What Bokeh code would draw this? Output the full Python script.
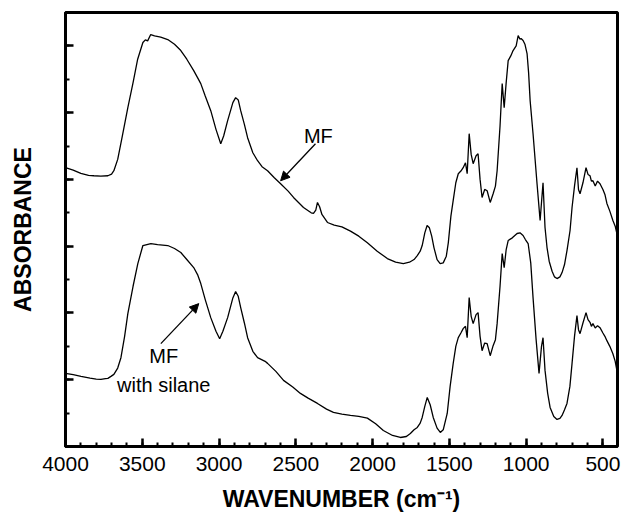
from bokeh.plotting import figure
from bokeh.models import Range1d, SingleIntervalTicker, Label, Arrow, NormalHead, CustomLabelingPolicy
from bokeh.embed import file_html
from bokeh.resources import INLINE

# Upper spectrum: MF
mf_wn = [4000, 3950, 3900, 3850, 3815, 3770, 3724, 3700, 3685, 3660, 3630, 3594, 3560, 3530,
         3496, 3480, 3465, 3445, 3420, 3380, 3334, 3290, 3249, 3210, 3165, 3140, 3119, 3090,
         3054, 3020, 2989, 2970, 2944, 2910, 2892, 2875, 2859, 2835, 2814, 2780, 2749, 2720,
         2684, 2640, 2599, 2550, 2515, 2450, 2400, 2385, 2370, 2359, 2345, 2330, 2294, 2250,
         2200, 2144, 2090, 2034, 1970, 1904, 1850, 1800, 1760, 1730, 1709, 1690, 1677, 1660,
         1645, 1630, 1615, 1600, 1580, 1560, 1540, 1520, 1507, 1490, 1475, 1458, 1442, 1425,
         1410, 1395, 1384, 1371, 1358, 1345, 1326, 1313, 1300, 1287, 1270, 1254, 1234, 1215,
         1200, 1189, 1170, 1156, 1143, 1130, 1117, 1100, 1085, 1065, 1052, 1040, 1033, 1020,
         1008, 994, 984, 974, 955, 929, 909, 890, 877, 864, 850, 831, 815, 799, 780, 766, 750,
         734, 714, 701, 685, 669, 659, 649, 630, 610, 597, 584, 575, 565, 550, 535, 519, 500,
         487, 474, 455, 435, 420, 409]
mf_abs = [8.35, 8.28, 8.18, 8.12, 8.11, 8.10, 8.11, 8.16, 8.26, 8.60, 9.30, 10.15, 10.90, 11.60,
          12.10, 12.18, 12.15, 12.34, 12.30, 12.26, 12.19, 12.05, 11.86, 11.60, 11.26, 11.05, 10.87, 10.50,
          10.06, 9.50, 9.07, 9.30, 9.76, 10.30, 10.45, 10.38, 10.06, 9.65, 9.25, 8.80, 8.56, 8.38,
          8.26, 8.05, 7.87, 7.65, 7.46, 7.16, 7.00, 6.98, 7.08, 7.31, 7.18, 6.95, 6.71, 6.63,
          6.58, 6.45, 6.30, 6.10, 5.85, 5.63, 5.52, 5.48, 5.52, 5.60, 5.72, 5.85, 6.02, 6.40,
          6.62, 6.55, 6.30, 5.95, 5.60, 5.48, 5.50, 5.70, 6.10, 6.90, 7.37, 7.90, 8.17, 8.25,
          8.35, 8.50, 8.17, 9.37, 8.75, 8.47, 8.71, 8.77, 8.00, 7.46, 7.70, 7.66, 7.31, 7.57,
          7.80, 8.26, 9.60, 10.87, 10.15, 10.90, 11.56, 11.70, 11.86, 12.00, 12.31, 12.20, 12.22, 12.16,
          12.05, 11.77, 11.20, 10.36, 9.37, 7.87, 6.77, 7.90, 6.56, 5.96, 5.55, 5.25, 5.08, 5.03, 5.08, 5.21, 5.45,
          5.87, 6.47, 7.16, 7.80, 8.35, 7.70, 7.57, 7.90, 8.35, 8.15, 8.11, 7.95, 7.96, 7.80, 7.95, 7.87, 7.70,
          7.55, 7.28, 7.05, 6.77, 6.60, 6.38]

# Lower spectrum: MF with silane
mfs_wn = [4000, 3950, 3899, 3840, 3800, 3769, 3740, 3724, 3704, 3685, 3660, 3639, 3615, 3594,
          3560, 3529, 3496, 3470, 3444, 3400, 3334, 3290, 3249, 3210, 3165, 3140, 3119, 3090,
          3054, 3020, 2996, 2975, 2944, 2910, 2892, 2875, 2859, 2835, 2814, 2780, 2749, 2700,
          2684, 2630, 2580, 2520, 2470, 2420, 2359, 2300, 2255, 2200, 2144, 2090, 2034, 1980,
          1930, 1870, 1819, 1780, 1754, 1730, 1709, 1690, 1677, 1660, 1644, 1625, 1605, 1580,
          1559, 1540, 1514, 1495, 1475, 1458, 1442, 1425, 1410, 1395, 1384, 1371, 1358, 1345,
          1326, 1313, 1300, 1287, 1270, 1254, 1234, 1215, 1200, 1189, 1170, 1156, 1143, 1130,
          1117, 1090, 1059, 1040, 1020, 1005, 987, 970, 955, 935, 916, 900, 890, 877, 860, 844,
          820, 799, 780, 766, 750, 734, 715, 701, 685, 669, 659, 649, 630, 610, 597, 584, 575,
          565, 550, 535, 519, 500, 487, 474, 455, 435, 420, 409]
mfs_abs = [2.19, 2.15, 2.10, 2.05, 2.02, 2.01, 2.03, 2.04, 2.10, 2.16, 2.35, 2.66, 3.30, 3.98,
           4.80, 5.48, 6.02, 6.05, 6.08, 6.05, 6.02, 5.93, 5.81, 5.60, 5.36, 5.15, 4.88, 4.40,
           3.86, 3.45, 3.23, 3.45, 3.86, 4.45, 4.64, 4.50, 4.16, 3.70, 3.26, 2.85, 2.66, 2.55,
           2.49, 2.25, 1.98, 1.78, 1.59, 1.45, 1.29, 1.12, 1.02, 0.97, 0.93, 0.90, 0.85, 0.68,
           0.48, 0.33, 0.27, 0.30, 0.39, 0.50, 0.57, 0.70, 0.87, 1.20, 1.47, 1.25, 0.87, 0.55,
           0.42, 0.50, 0.99, 1.80, 2.49, 3.00, 3.26, 3.40, 3.53, 3.60, 3.26, 4.46, 3.90, 3.68,
           3.95, 4.01, 3.30, 2.87, 3.10, 3.08, 2.72, 3.02, 3.20, 3.68, 4.80, 5.78, 5.36, 5.90,
           6.17, 6.25, 6.38, 6.40, 6.32, 6.20, 6.08, 5.50, 4.46, 3.20, 2.19, 3.00, 3.26, 2.28, 1.60, 1.17,
           0.90, 0.81, 0.84, 0.93, 1.10, 1.29, 1.80, 2.49, 3.30, 3.92, 3.50, 3.38, 3.70, 4.01, 3.80, 3.72, 3.60,
           3.68, 3.55, 3.62, 3.56, 3.40, 3.30, 3.17, 3.00, 2.78, 2.55, 2.28]

FONT = "Liberation Sans"

p = figure(width=625, height=514, output_backend="svg", toolbar_location=None,
           x_range=Range1d(4000, 405), y_range=Range1d(0, 13),
           min_border_left=65, min_border_right=8, min_border_top=12, min_border_bottom=68)
p.grid.visible = False
p.background_fill_color = "white"
p.border_fill_color = "white"
p.outline_line_color = "black"
p.outline_line_width = 3

p.line(mf_wn, mf_abs, line_color="black", line_width=1.3)
p.line(mfs_wn, mfs_abs, line_color="black", line_width=1.3)

p.xaxis.ticker = SingleIntervalTicker(interval=500, num_minor_ticks=5)
p.yaxis.ticker = SingleIntervalTicker(interval=2, num_minor_ticks=2)
for ax in (p.xaxis, p.yaxis):
    ax.axis_line_width = 3
    ax.major_tick_in = 8
    ax.major_tick_out = 0
    ax.minor_tick_in = 4
    ax.minor_tick_out = 0
    ax.major_tick_line_width = 2.5
    ax.minor_tick_line_width = 2
    ax.axis_label_text_font = FONT
    ax.axis_label_text_font_style = "bold"
    ax.axis_label_text_font_size = "23px"
    ax.axis_label_text_color = "black"
    ax.major_label_text_font = FONT
    ax.major_label_text_color = "black"

p.xaxis.axis_label = "WAVENUMBER (cm\u207b\u00b9)"
p.xaxis.major_label_text_font_size = "21px"
p.xaxis.major_label_standoff = 10
p.xaxis.axis_label_standoff = 12

p.yaxis.axis_label = "ABSORBANCE"
p.yaxis.major_label_text_font_size = "1px"
p.yaxis.major_label_policy = CustomLabelingPolicy(
    code="for (let i = 0; i < indices.size; i++) { indices.unset(i) }\nreturn indices")
p.yaxis.major_label_standoff = 0
p.yaxis.axis_label_standoff = 25

# annotations
p.add_layout(Label(x=2353, y=9.31, text="MF", text_font=FONT, text_font_size="20px",
                   text_align="center", text_baseline="middle", text_color="black"))
p.add_layout(Arrow(x_start=2372, y_start=9.07, x_end=2599, y_end=7.96,
                   line_color="black", line_width=1.3,
                   end=NormalHead(size=9, fill_color="black", line_color="black")))

p.add_layout(Label(x=3360, y=2.72, text="MF", text_font=FONT, text_font_size="20px",
                   text_align="center", text_baseline="middle", text_color="black"))
p.add_layout(Label(x=3360, y=1.83, text="with silane", text_font=FONT, text_font_size="20px",
                   text_align="center", text_baseline="middle", text_color="black"))
p.add_layout(Arrow(x_start=3379, y_start=3.08, x_end=3132, y_end=4.28,
                   line_color="black", line_width=1.3,
                   end=NormalHead(size=9, fill_color="black", line_color="black")))

open("out.html", "w").write(file_html(p, INLINE))
